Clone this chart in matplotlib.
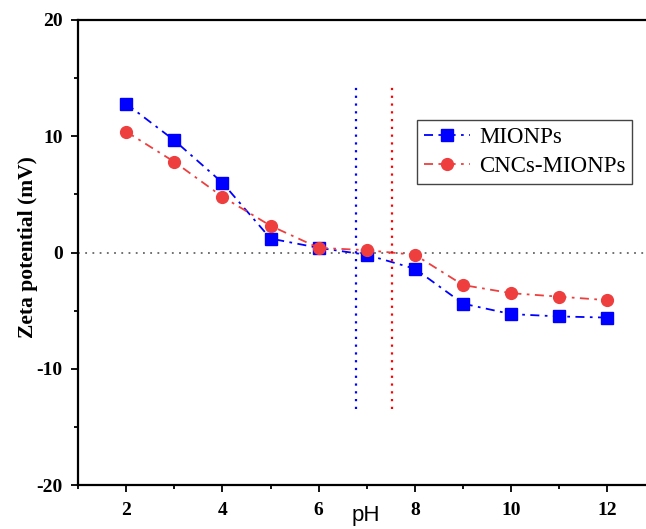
import matplotlib.pyplot as plt
from matplotlib.ticker import MultipleLocator

ph = [2, 3, 4, 5, 6, 7, 8, 9, 10, 11, 12]
mionps = [12.8, 9.65, 6.0, 1.2, 0.4, -0.2, -1.4, -4.4, -5.3, -5.5, -5.6]
cncs_mionps = [10.4, 7.8, 4.8, 2.3, 0.4, 0.2, -0.2, -2.8, -3.5, -3.8, -4.1]
pzc_mionps = 6.77
pzc_cncs = 7.52

plt.rcParams['font.family'] = ['Liberation Serif', 'DejaVu Serif']
plt.rcParams['axes.unicode_minus'] = False

fig = plt.figure(figsize=(6.46, 5.29), dpi=100)
ax = fig.add_axes([78 / 646, 44 / 529, 1 - 78 / 646, 465 / 529])

dash = (0, (5, 3, 1.5, 3))
ax.plot(ph, mionps, color='#0000ff', ls=dash, lw=1.3, marker='s', ms=8.5,
        label='MIONPs')
ax.plot(ph, cncs_mionps, color='#ef3e3e', ls=dash, lw=1.3, marker='o', ms=8.5,
        label='CNCs-MIONPs')

ax.axhline(0, color='#666666', ls=(0, (1, 3)), lw=1.3, zorder=0)
ax.vlines(pzc_mionps, -13.5, 14.2, color='#0000ff', ls=(0, (1, 2.5)), lw=1.6)
ax.vlines(pzc_cncs, -13.5, 14.2, color='#ff0000', ls=(0, (1, 2.5)), lw=1.6)

ax.set_xlim(1, 12.8)
ax.set_ylim(-20, 20)
ax.xaxis.set_major_locator(MultipleLocator(2))
ax.xaxis.set_minor_locator(MultipleLocator(1))
ax.yaxis.set_major_locator(MultipleLocator(10))
ax.yaxis.set_minor_locator(MultipleLocator(5))
ax.tick_params(which='major', direction='out', length=5, width=1.3,
               labelsize=14)
ax.tick_params(which='minor', direction='out', length=3, width=1.3)
ax.tick_params(axis='x', pad=7)
ax.tick_params(axis='y', pad=6)
for lab in ax.get_xticklabels() + ax.get_yticklabels():
    lab.set_fontweight('bold')

ax.spines['right'].set_visible(False)
for s in ['left', 'top', 'bottom']:
    ax.spines[s].set_linewidth(1.6)

fig.text(28 / 646, 1 - 247 / 529, 'Zeta potential (mV)', fontsize=15.5,
         fontweight='bold', rotation=90, ha='center', va='center')
fig.text(366 / 646, 1 - 516 / 529, 'pH', fontsize=16, family='Liberation Sans',
         ha='center', va='center')

leg = ax.legend(loc='upper left', bbox_to_anchor=((417 - 78) / 568, 1 - 100 / 465),
                fontsize=16.5, fancybox=False, framealpha=1, edgecolor='#444444',
                handlelength=2.0, handletextpad=0.4, borderpad=0.3,
                labelspacing=0.35, borderaxespad=0)
leg.get_frame().set_linewidth(1.0)

fig.savefig('out.png', dpi=100)
